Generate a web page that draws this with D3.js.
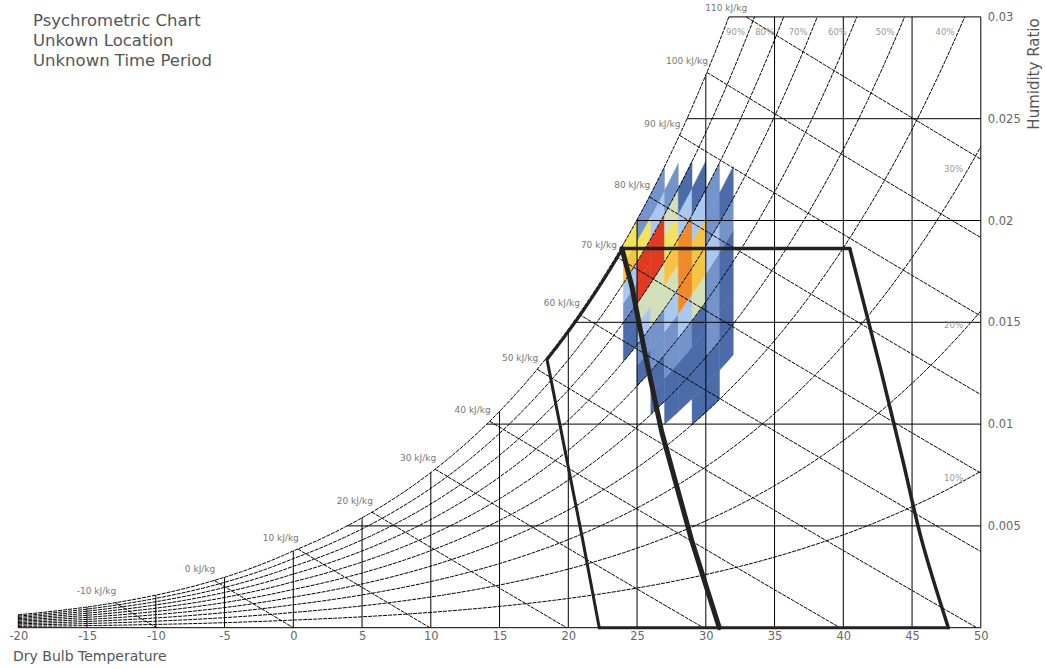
<!DOCTYPE html>
<html><head><meta charset="utf-8">
<script src="https://cdn.jsdelivr.net/npm/d3@7"></script>
<style>
body{margin:0;background:#fff}
svg{display:block}
text{font-family:"DejaVu Sans",Verdana,sans-serif}
</style>
</head><body>
<svg id="chart" width="1046" height="669"></svg>
<script>
// ---------------- data ----------------
const titleLines = ["Psychrometric Chart", "Unkown Location", "Unknown Time Period"];
const xTicks = [-20, -15, -10, -5, 0, 5, 10, 15, 20, 25, 30, 35, 40, 45, 50];
const yTicks = [0.005, 0.01, 0.015, 0.02, 0.025, 0.03];
const rhLines = [0.1, 0.2, 0.3, 0.4, 0.5, 0.6, 0.7, 0.8, 0.9];
const rhTopLabels = [0.4, 0.5, 0.6, 0.7, 0.8, 0.9];
const rhSideLabels = [0.1, 0.2, 0.3];
const enthalpyLines = [-10, 0, 10, 20, 30, 40, 50, 60, 70, 80, 90, 100, 110];

// heat map: 1 degC dry bulb columns x 5% RH bins (hours)
const heatTemps = [24, 25, 26, 27, 28, 29, 30, 31];
const heatRhBins = [35, 40, 45, 50, 55, 60, 65, 70, 75, 80, 85, 90, 95];
const heatHours = [
  [0, 0, 0, 0, 0, 0, 0, 5, 6, 14, 24, 55, 44],
  [0, 0, 0, 0, 0, 7, 13, 26, 36, 71, 74, 45, 15],
  [0, 0, 0, 4, 8, 12, 16, 38, 34, 73, 78, 27, 16],
  [0, 0, 3, 8, 15, 17, 25, 33, 57, 46, 37, 12, 0],
  [0, 0, 9, 8, 16, 28, 62, 64, 66, 23, 6, 0, 0],
  [0, 5, 8, 6, 8, 35, 52, 54, 21, 7, 0, 0, 0],
  [0, 6, 9, 14, 18, 15, 24, 16, 12, 0, 0, 0, 0],
  [0, 0, 3, 6, 7, 8, 11, 5, 0, 0, 0, 0, 0]
];
const heatThresholds = [10, 20, 30, 40, 50, 60, 70];
const heatColors = ["#4b6ba9", "#7393ca", "#aac8ef", "#d3dfb8", "#f2e35e", "#f6c445", "#ee8a2c", "#e03a22"];

// comfort polygon boundaries (dry bulb degC, humidity ratio kg/kg)
const comfortLeftEdge = [[22.25, 0], [21.05, 0.0043], [18.45, 0.01318]];
const comfortUpperRH = 0.992;
const comfortUpperT = [18.45, 23.9];
const comfortMiddleEdge = [[23.9, 0.01862], [24.6, 0.01683], [25.6, 0.0134], [26.8, 0.0096], [28.97, 0.0043], [30.98, 0]];
const comfortTopEdge = [[23.9, 0.01862], [40.47, 0.01862]];
const comfortRightEdge = [[40.47, 0.01862], [42.67, 0.01282], [44.3, 0.0083], [45.7, 0.0043], [47.64, 0]];
const comfortBottomEdge = [[22.25, 0], [47.64, 0]];

// ---------------- psychrometrics ----------------
const P = 101.325;
function ps(t) {
  return t >= 0 ? 0.61094 * Math.exp(17.625 * t / (t + 243.04))
                : 0.61115 * Math.exp(22.452 * t / (272.55 + t));
}
function wAt(t, rh) { const pw = rh * ps(t); return 0.622 * pw / (P - pw); }
function enth(t, w) { return 1.006 * t + w * (2501 + 1.86 * t); }
function bisect(f, lo, hi) {
  for (let i = 0; i < 80; i++) { const m = (lo + hi) / 2; if (f(m) > 0) hi = m; else lo = m; }
  return (lo + hi) / 2;
}
function tForW(w, rh) { return bisect(t => wAt(t, rh) - w, -40, 80); }
function tSatForH(h) { return bisect(t => enth(t, wAt(t, 1)) - h, -40, 80); }
const TMIN = -20, TMAX = 50, WMAX = 0.03;

// ---------------- scales ----------------
const svg = d3.select("#chart");
const x = d3.scaleLinear().domain([TMIN, TMAX]).range([18.3, 980.8]);
const y = d3.scaleLinear().domain([0, WMAX]).range([627.7, 16.9]);
const line = d3.line().x(d => x(d[0])).y(d => y(d[1]));
function range(a, b, n) { return d3.range(n + 1).map(i => a + (b - a) * i / n); }

// ---------------- heat map ----------------
const color = d3.scaleThreshold().domain(heatThresholds).range(heatColors);
const gHeat = svg.append("g");
heatTemps.forEach((t0, i) => {
  heatRhBins.forEach((r0, j) => {
    const v = heatHours[i][j];
    if (!v) return;
    const t1 = t0 + 1, ra = r0 / 100, rb = Math.min(1, (r0 + 5) / 100);
    const pts = range(t0, t1, 6).map(t => [t, wAt(t, rb)])
      .concat(range(t1, t0, 6).map(t => [t, wAt(t, ra)]));
    gHeat.append("path").attr("d", line(pts) + "Z")
      .attr("fill", color(v)).attr("stroke", color(v)).attr("stroke-width", 0.4);
  });
});

// ---------------- grid ----------------
const gGrid = svg.append("g").attr("stroke", "#000").attr("stroke-width", 1).attr("fill", "none");
xTicks.forEach(t => {
  gGrid.append("path").attr("d", line([[t, 0], [t, Math.min(wAt(t, 1), WMAX)]]));
});
yTicks.forEach(w => {
  gGrid.append("path").attr("d", line([[tForW(w, 1), w], [TMAX, w]]));
});
gGrid.append("path").attr("d", line([[TMIN, 0], [TMAX, 0]]));

// saturation + RH curves
const gCurves = svg.append("g").attr("stroke", "#000").attr("stroke-width", 1)
  .attr("fill", "none").attr("stroke-dasharray", "4,1");
[1].concat(rhLines).forEach(r => {
  const tEnd = Math.min(TMAX, tForW(WMAX, r));
  gCurves.append("path").attr("d", line(range(TMIN, tEnd, 140).map(t => [t, wAt(t, r)])));
});
// enthalpy lines
const hLabelPos = [];
enthalpyLines.forEach(h => {
  let tS = tSatForH(h), wS = wAt(tS, 1);
  if (wS > WMAX) { wS = WMAX; tS = (h - WMAX * 2501) / (1.006 + WMAX * 1.86); }
  let tE = h / 1.006;
  if (tE > TMAX) tE = TMAX;
  const pts = range(tS, tE, 30).map(t => [t, Math.max(0, (h - 1.006 * t) / (2501 + 1.86 * t))]);
  gCurves.append("path").attr("d", line(pts));
  hLabelPos.push({h, t: tS, w: wS});
});

// ---------------- comfort polygons ----------------
const gComfort = svg.append("g").attr("stroke", "#222").attr("fill", "none")
  .attr("stroke-linejoin", "round").attr("stroke-linecap", "round");
gComfort.append("path").attr("d", line(comfortLeftEdge)).attr("stroke-width", 3);
gComfort.append("path").attr("d", line(range(comfortUpperT[0], comfortUpperT[1], 30).map(t => [t, wAt(t, comfortUpperRH)]))).attr("stroke-width", 3);
gComfort.append("path").attr("d", line(comfortMiddleEdge)).attr("stroke-width", 5);
gComfort.append("path").attr("d", line(comfortTopEdge)).attr("stroke-width", 3.5);
gComfort.append("path").attr("d", d3.line().curve(d3.curveMonotoneY).x(d => x(d[0])).y(d => y(d[1]))(comfortRightEdge)).attr("stroke-width", 3.5);
gComfort.append("path").attr("d", line(comfortBottomEdge)).attr("stroke-width", 3);

// ---------------- labels ----------------
const gLab = svg.append("g");
hLabelPos.forEach(d => {
  const yy = d.w >= WMAX ? y(d.w) - 6 : y(d.w) - 8.5;
  gLab.append("text").attr("x", x(d.t) + 1).attr("y", yy)
    .attr("text-anchor", "end").attr("font-size", 9).attr("fill", "#777")
    .text(d.h + " kJ/kg");
});
rhTopLabels.forEach(r => {
  const t = tForW(0.0293, r);
  gLab.append("text").attr("x", x(t) - 4).attr("y", 35)
    .attr("text-anchor", "end").attr("font-size", 8.5).attr("fill", "#999")
    .text(Math.round(r * 100) + "%");
});
rhSideLabels.forEach(r => {
  gLab.append("text").attr("x", 963).attr("y", y(wAt(49.1, r)) + 3)
    .attr("text-anchor", "end").attr("font-size", 8.5).attr("fill", "#999")
    .text(Math.round(r * 100) + "%");
});

// axes
const xAxis = svg.append("g").attr("transform", `translate(0,${y(0)})`)
  .call(d3.axisBottom(x).tickValues(xTicks).tickSize(0).tickPadding(4).tickFormat(d => String(d)));
xAxis.select(".domain").remove();
xAxis.selectAll("text").attr("font-size", 11.5).attr("fill", "#666").attr("font-family", "DejaVu Sans");
const yAxis = svg.append("g").attr("transform", `translate(${x(TMAX)},0)`)
  .call(d3.axisRight(y).tickValues(yTicks).tickSize(0).tickPadding(7).tickFormat(d => String(+d.toFixed(3))));
yAxis.select(".domain").remove();
yAxis.selectAll("text").attr("font-size", 11.5).attr("fill", "#666").attr("font-family", "DejaVu Sans");

svg.append("text").attr("x", 13).attr("y", 660.5).attr("font-size", 14).attr("fill", "#555")
  .text("Dry Bulb Temperature");
svg.append("text").attr("transform", "translate(1039,74) rotate(-90)").attr("text-anchor", "middle")
  .attr("font-size", 15).attr("fill", "#555").text("Humidity Ratio");

titleLines.forEach((s, i) => {
  svg.append("text").attr("x", 33).attr("y", 26 + i * 20.2).attr("font-size", 16.5)
    .attr("fill", "#555").text(s);
});
</script>
</body></html>
